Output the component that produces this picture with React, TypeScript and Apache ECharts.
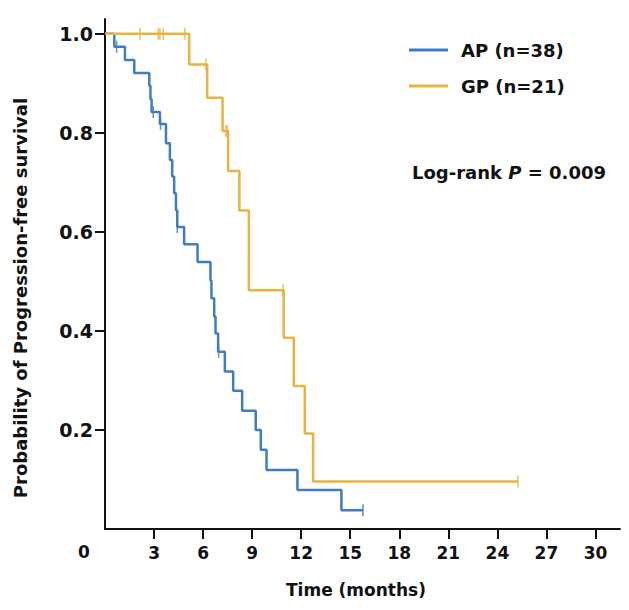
import React, { useEffect, useRef } from "react";
import * as echarts from "echarts";

const xTickValues = [3, 6, 9, 12, 15, 18, 21, 24, 27, 30];
const yTickValues = [0.2, 0.4, 0.6, 0.8, 1.0];

const apTimes = [0, 0.57, 1.22, 1.79, 2.71, 2.78, 2.85, 3.36, 3.73, 3.97, 4.11, 4.23, 4.34, 4.42, 4.84, 5.66, 6.45, 6.51, 6.68, 6.76, 6.92, 7.33, 7.84, 8.39, 9.22, 9.53, 9.88, 11.77, 14.46, 15.78];
const apSurv = [1, 0.974, 0.947, 0.921, 0.895, 0.868, 0.842, 0.818, 0.779, 0.745, 0.712, 0.678, 0.644, 0.61, 0.575, 0.539, 0.502, 0.466, 0.429, 0.395, 0.358, 0.318, 0.279, 0.239, 0.2, 0.16, 0.119, 0.079, 0.038, 0.038];
const apCensorTimes = [0.71, 2.95, 3.4, 4.42, 6.95, 15.78];
const apCensorSurv = [0.974, 0.842, 0.818, 0.61, 0.358, 0.038];

const gpTimes = [0, 5.15, 6.25, 7.19, 7.53, 8.22, 8.8, 10.93, 11.55, 12.22, 12.73, 25.25];
const gpSurv = [1, 0.938, 0.871, 0.804, 0.723, 0.643, 0.482, 0.386, 0.289, 0.193, 0.096, 0.096];
const gpCensorTimes = [2.14, 3.26, 3.36, 3.56, 4.89, 6.17, 7.4, 7.48, 10.89, 25.25];
const gpCensorSurv = [1, 1, 1, 1, 1, 0.938, 0.804, 0.804, 0.482, 0.096];

const BLUE = "#3d7ec3";
const YELLOW = "#e6b440";
const FONT = "DejaVu Sans, Verdana, sans-serif";

const zip = (a: number[], b: number[]) => a.map((v, i) => [v, b[i]]);

export default function App() {
  const ref = useRef<HTMLDivElement>(null);
  useEffect(() => {
    if (!ref.current) return;
    const chart = echarts.init(ref.current, null, { renderer: "svg" });
    const txt = (size: number) => ({ color: "#111", fontFamily: FONT, fontWeight: "bold" as const, fontSize: size });
    chart.setOption({
      animation: false,
      backgroundColor: "#fff",
      grid: { left: 105, right: 9, top: 19, bottom: 81, outerBoundsMode: "none" },
      legend: {
        data: ["AP (n=38)", "GP (n=21)"],
        orient: "vertical",
        left: 404,
        top: 35,
        icon: "rect",
        itemWidth: 39,
        itemHeight: 3,
        itemGap: 16,
        textStyle: { ...txt(18), padding: [0, 0, 0, 8], lineHeight: 20 },
      },
      xAxis: {
        type: "value",
        min: 0,
        max: 31.5,
        axisLine: { lineStyle: { color: "#111", width: 2 } },
        axisTick: { show: true, length: 10, lineStyle: { color: "#111", width: 2 }, customValues: xTickValues },
        axisLabel: { ...txt(17), margin: 15, customValues: xTickValues },
        splitLine: { show: false },
      },
      yAxis: {
        type: "value",
        min: 0,
        max: 1.03,
        axisLine: { show: true, lineStyle: { color: "#111", width: 2 } },
        axisTick: { show: true, length: 10, lineStyle: { color: "#111", width: 2 }, customValues: yTickValues },
        axisLabel: { ...txt(19), margin: 12, customValues: yTickValues, formatter: (v: number) => v.toFixed(1) },
        splitLine: { show: false },
      },
      graphic: [
        { type: "text", left: 78, top: 543, style: { text: "0", fill: "#111", font: `bold 17px ${FONT}` } },
        {
          type: "text",
          x: 356,
          y: 590,
          style: { text: "Time (months)", fill: "#111", font: `bold 17px ${FONT}`, align: "center", verticalAlign: "middle" },
        },
        {
          type: "text",
          x: 20,
          y: 298,
          rotation: Math.PI / 2,
          style: {
            text: "Probability of Progression-free survival",
            fill: "#111",
            font: `bold 18px ${FONT}`,
            align: "center",
            verticalAlign: "middle",
          },
        },
        {
          type: "text",
          left: 412,
          top: 163,
          style: {
            text: "{a|Log-rank }{p|P}{a| = 0.009}",
            rich: {
              a: { fontFamily: FONT, fontWeight: "bold", fontSize: 18, fill: "#111" },
              p: { fontFamily: FONT, fontWeight: "bold", fontStyle: "italic", fontSize: 18, fill: "#111" },
            },
          },
        },
      ],
      series: [
        {
          name: "AP (n=38)",
          type: "line",
          step: "end",
          data: zip(apTimes, apSurv),
          showSymbol: false,
          color: BLUE,
          lineStyle: { color: BLUE, width: 2.5 },
          z: 3,
        },
        {
          type: "scatter",
          data: zip(apCensorTimes, apCensorSurv),
          symbol: "rect",
          symbolSize: [1.6, 12],
          itemStyle: { color: BLUE },
          z: 3,
        },
        {
          name: "GP (n=21)",
          type: "line",
          step: "end",
          data: zip(gpTimes, gpSurv),
          showSymbol: false,
          color: YELLOW,
          lineStyle: { color: YELLOW, width: 2.5 },
          z: 4,
        },
        {
          type: "scatter",
          data: zip(gpCensorTimes, gpCensorSurv),
          symbol: "rect",
          symbolSize: [1.6, 12],
          itemStyle: { color: YELLOW },
          z: 4,
        },
      ],
    });
    return () => chart.dispose();
  }, []);
  return <div ref={ref} style={{ width: 629, height: 610, position: "absolute", left: 0, top: 0 }} />;
}
